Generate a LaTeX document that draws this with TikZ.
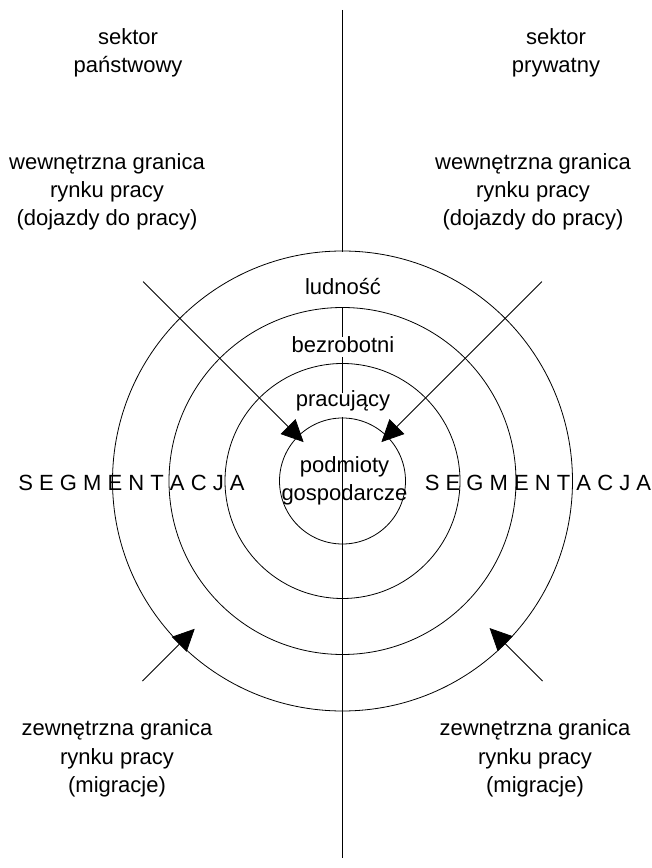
\documentclass[tikz,border=0pt]{standalone}
\usepackage{fontspec}
\setmainfont{Liberation Sans}
\usetikzlibrary{arrows.meta,calc}
\begin{document}
\begin{tikzpicture}[x=1pt,y=1pt,
  lbl/.style={font=\fontsize{22}{28}\selectfont, anchor=base, inner sep=0pt},
  ring/.style={draw=black, line width=0.8pt},
  axisline/.style={draw=black, line width=0.8pt},
  arr/.style={draw=black, line width=0.8pt, -{Triangle[length=22pt,width=21pt]}}]
\useasboundingbox (0,0) rectangle (652,868);
\fill[white] (0,0) rectangle (652,868);
\coordinate (c) at (342.5,387);
% rings
\draw[ring] (c) circle[radius=230];
\draw[ring] (c) circle[radius=173.5];
\draw[ring] (c) circle[radius=117.5];
\draw[ring] (c) circle[radius=63];
% vertical axis (interrupted by labels)
\coordinate (v0) at (342.5,858);
\coordinate (v1) at (342.5,616);
\coordinate (v2) at (342.5,560);
\coordinate (v3) at (342.5,531);
\coordinate (v4) at (342.5,511);
\coordinate (v5) at (342.5,475);
\coordinate (v6) at (342.5,451);
\coordinate (v7) at (342.5,10);
\draw[axisline] (v0) -- (v1);
\draw[axisline] (v2) -- (v3);
\draw[axisline] (v4) -- (v5);
\draw[axisline] (v6) -- (v7);
% arrows
\coordinate (a1s) at ($(c)+(135:282)$);
\coordinate (a1e) at ($(c)+(135:55)$);
\coordinate (a2s) at ($(c)+(45:282)$);
\coordinate (a2e) at ($(c)+(45:55)$);
\coordinate (a3s) at ($(c)+(225:283)$);
\coordinate (a3e) at ($(c)+(225:209)$);
\coordinate (a4s) at ($(c)+(315:283)$);
\coordinate (a4e) at ($(c)+(315:208)$);
\draw[arr] (a1s) -- (a1e);
\draw[arr] (a2s) -- (a2e);
\draw[arr] (a3s) -- (a3e);
\draw[arr] (a4s) -- (a4e);
% top labels
\node[lbl] (sl1) at (128,823) {sektor};
\node[lbl] (sl2) at (128,795) {państwowy};
\node[lbl] (sr1) at (556,823) {sektor};
\node[lbl] (sr2) at (556,795) {prywatny};
% inner boundary labels
\node[lbl] (wl1) at (107,698) {wewnętrzna granica};
\node[lbl] (wl2) at (107,670) {rynku pracy};
\node[lbl] (wl3) at (107,642) {(dojazdy do pracy)};
\node[lbl] (wr1) at (533,698) {wewnętrzna granica};
\node[lbl] (wr2) at (533,670) {rynku pracy};
\node[lbl] (wr3) at (533,642) {(dojazdy do pracy)};
% ring labels
\node[lbl] (lud) at (343,573) {ludność};
\node[lbl] (bez) at (343,515) {bezrobotni};
\node[lbl] (pra) at (343,461) {pracujący};
\node[lbl] (pod1) at (344.5,395) {podmioty};
\node[lbl] (pod2) at (344.5,367) {gospodarcze};
% segmentation
\node[lbl] (segl) at (131.5,377) {S E G M E N T A C J A};
\node[lbl] (segr) at (538,377) {S E G M E N T A C J A};
% outer boundary labels
\node[lbl] (zl1) at (117,132) {zewnętrzna granica};
\node[lbl] (zl2) at (117,103) {rynku pracy};
\node[lbl] (zl3) at (117,75) {(migracje)};
\node[lbl] (zr1) at (535,132) {zewnętrzna granica};
\node[lbl] (zr2) at (535,103) {rynku pracy};
\node[lbl] (zr3) at (535,75) {(migracje)};
\end{tikzpicture}
\end{document}
